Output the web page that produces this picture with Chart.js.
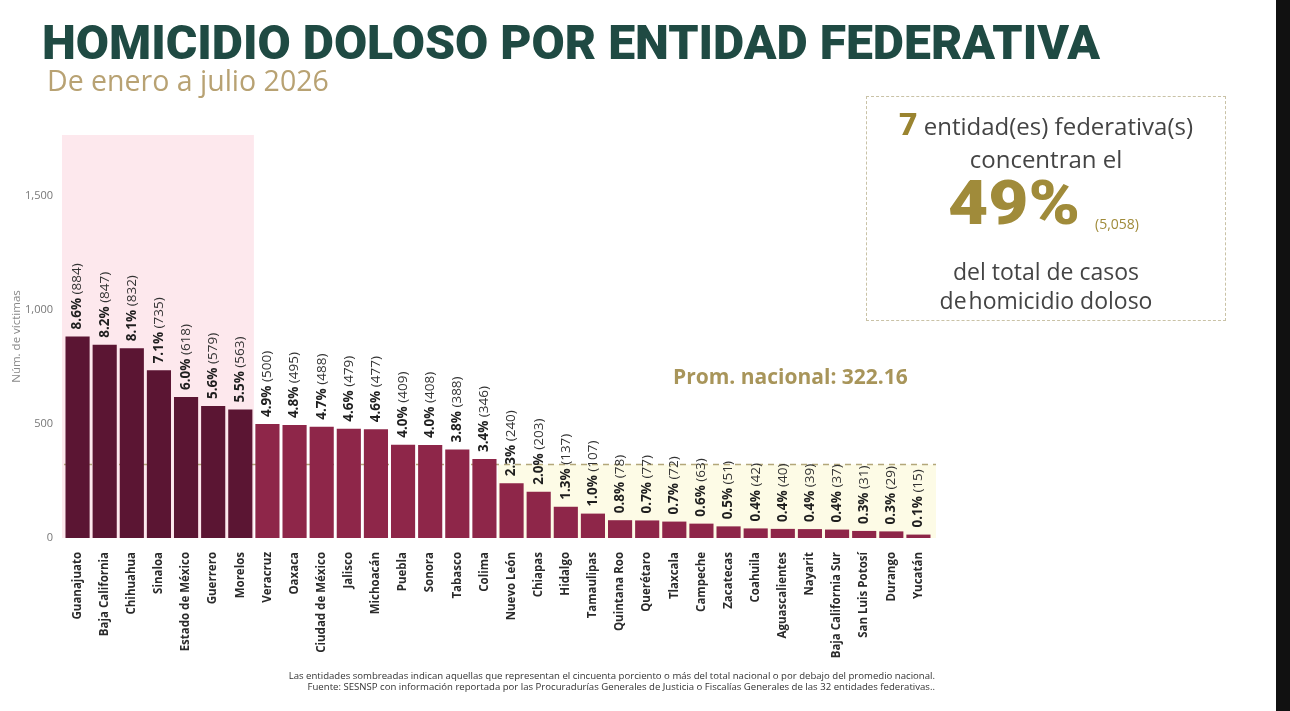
<!DOCTYPE html>
<html lang="es">
<head>
<meta charset="utf-8">
<title>Homicidio doloso por entidad federativa</title>
<script src="https://cdn.jsdelivr.net/npm/chart.js@4.4.0/dist/chart.umd.min.js"></script>
<style>
  html, body { margin: 0; padding: 0; background: #fff; }
  body { width: 1290px; height: 711px; position: relative; overflow: hidden; font-family: "Open Sans", sans-serif; }
  #chart { position: absolute; left: 0; top: 0; }
  #title { position: absolute; left: 42px; top: 14px; margin: 0; font-family: "Roboto", sans-serif; font-weight: 900;
           font-size: 48px; color: #1f4a43; white-space: nowrap; transform-origin: left top; }
  #subtitle { position: absolute; left: 47px; top: 61px; font-size: 28.5px; color: #b8a273; white-space: nowrap; }
  #box { position: absolute; left: 866px; top: 96px; width: 360px; height: 225px; border: 1.5px dashed #c9c2a6;
         box-sizing: border-box; text-align: center; color: #444; }
  #box .l1 { position: absolute; left: 0; right: 0; top: 8px; font-size: 24px; }
  #box .l1 b { color: #9a8430; font-size: 32px; font-family: "Roboto", sans-serif; font-weight: 900; }
  #box .l2 { position: absolute; left: 0; right: 0; top: 45px; font-size: 24px; }
  #box .big { position: absolute; left: 81px; top: 75px; font-family: "Roboto", sans-serif; font-weight: 900; font-size: 62px;
              line-height: 62px; color: #a08b3a; transform-origin: left top; transform: scaleX(1.12); }
  #box .small { position: absolute; left: 228px; top: 117px; font-size: 14px; color: #a08b3a; }
  #box .l3 { position: absolute; left: 0; right: 0; top: 158px; font-size: 23px; }
  #box .l4 { position: absolute; left: 0; right: 0; top: 187px; font-size: 23px; }
  #box .l4 span { margin-right: -4px; }
  #prom { position: absolute; left: 673px; top: 362px; font-size: 21px; font-weight: 700; color: #a8955a; white-space: nowrap; }
  #foot { position: absolute; right: 355px; top: 670px; font-size: 9.6px; color: #333; text-align: right; line-height: 11px; white-space: nowrap; }
  #strip { position: absolute; left: 1276px; top: 0; width: 14px; height: 711px; background: #111; }
</style>
</head>
<body>
<canvas id="chart" width="1290" height="711"></canvas>
<h1 id="title">HOMICIDIO DOLOSO POR ENTIDAD FEDERATIVA</h1>
<div id="subtitle">De enero a julio 2026</div>
<div id="box">
  <div class="l1"><b>7</b> entidad(es) federativa(s)</div>
  <div class="l2">concentran el</div>
  <div class="big">49%</div>
  <div class="small">(5,058)</div>
  <div class="l3">del total de casos</div>
  <div class="l4"><span>de</span> homicidio doloso</div>
</div>
<div id="prom">Prom. nacional: 322.16</div>
<div id="foot">Las entidades sombreadas indican aquellas que representan el cincuenta porciento o más del total nacional o por debajo del promedio nacional.<br>Fuente: SESNSP con información reportada por las Procuradurías Generales de Justicia o Fiscalías Generales de las 32 entidades federativas..</div>
<div id="strip"></div>

<script>
// Data
const estados = ["Guanajuato", "Baja California", "Chihuahua", "Sinaloa", "Estado de México", "Guerrero", "Morelos",
  "Veracruz", "Oaxaca", "Ciudad de México", "Jalisco", "Michoacán", "Puebla", "Sonora", "Tabasco", "Colima",
  "Nuevo León", "Chiapas", "Hidalgo", "Tamaulipas", "Quintana Roo", "Querétaro", "Tlaxcala", "Campeche",
  "Zacatecas", "Coahuila", "Aguascalientes", "Nayarit", "Baja California Sur", "San Luis Potosí", "Durango", "Yucatán"];
const victimas = [884, 847, 832, 735, 618, 579, 563, 500, 495, 488, 479, 477, 409, 408, 388, 346,
  240, 203, 137, 107, 78, 77, 72, 63, 51, 42, 40, 39, 37, 31, 29, 15];
const porcentajes = ["8.6%", "8.2%", "8.1%", "7.1%", "6.0%", "5.6%", "5.5%", "4.9%", "4.8%", "4.7%", "4.6%", "4.6%",
  "4.0%", "4.0%", "3.8%", "3.4%", "2.3%", "2.0%", "1.3%", "1.0%", "0.8%", "0.7%", "0.7%", "0.6%",
  "0.5%", "0.4%", "0.4%", "0.4%", "0.4%", "0.3%", "0.3%", "0.1%"];
const promedio = 322.16;
const topCount = 7;        // entidades que concentran el 49%
const yTicks = [0, 500, 1000, 1500];

// fit title to its width in the reference
const title = document.getElementById("title");
title.style.transform = "scaleX(" + (1058 / title.getBoundingClientRect().width) + ")";

const DARK = "#5b1533";
const LIGHT = "#8e2649";

// shaded areas + dashed average line
const shading = {
  id: "shading",
  beforeDatasetsDraw(chart) {
    const { ctx, chartArea, scales: { x, y } } = chart;
    const step = (chartArea.right - chartArea.left) / estados.length;
    const ctrs = estados.map((_, i) => x.getPixelForValue(i));
    const yAvg = y.getPixelForValue(promedio);
    ctx.save();
    // pink block over the top entities
    ctx.fillStyle = "#fde8ed";
    ctx.fillRect(chartArea.left - 2, chartArea.top, ctrs[topCount - 1] + step / 2 - chartArea.left + 2, chartArea.bottom - chartArea.top);
    // yellow block under the average
    const firstBelow = victimas.findIndex(v => v < promedio);
    const xs = ctrs[firstBelow] - step / 2;
    ctx.fillStyle = "#fdfbe6";
    ctx.fillRect(xs, yAvg, chartArea.right + 4 - xs, chartArea.bottom - yAvg);
    // average line
    ctx.strokeStyle = "#b3a77a";
    ctx.lineWidth = 1.5;
    ctx.setLineDash([6, 5]);
    ctx.beginPath();
    ctx.moveTo(chartArea.left, yAvg);
    ctx.lineTo(chartArea.right + 4, yAvg);
    ctx.stroke();
    ctx.restore();
  }
};

// rotated "pct (value)" labels above each bar
const barLabels = {
  id: "barLabels",
  afterDatasetsDraw(chart) {
    const { ctx } = chart;
    const bars = chart.getDatasetMeta(0).data;
    ctx.save();
    bars.forEach((bar, i) => {
      ctx.save();
      ctx.translate(bar.x, bar.y - 7);
      ctx.rotate(-Math.PI / 2);
      ctx.textAlign = "left";
      ctx.textBaseline = "middle";
      ctx.font = "bold 13.5px 'Open Sans'";
      ctx.fillStyle = "#1e1e1e";
      ctx.fillText(porcentajes[i], 0, 0);
      const w = ctx.measureText(porcentajes[i] + " ").width;
      ctx.font = "13.5px 'Open Sans'";
      ctx.fillStyle = "#333";
      ctx.fillText("(" + victimas[i] + ")", w, 0);
      ctx.restore();
    });
    ctx.restore();
  }
};

const ctx = document.getElementById("chart").getContext("2d");
new Chart(ctx, {
  type: "bar",
  data: {
    labels: estados,
    datasets: [{
      data: victimas,
      backgroundColor: victimas.map((_, i) => i < topCount ? DARK : LIGHT),
      barPercentage: 0.89,
      categoryPercentage: 1.0
    }]
  },
  options: {
    responsive: false,
    animation: false,
    layout: { padding: { top: 135, left: 0, right: 358, bottom: 0 } },
    plugins: { legend: { display: false }, tooltip: { enabled: false } },
    scales: {
      x: {
        grid: { display: false },
        border: { display: false },
        ticks: {
          autoSkip: false, minRotation: 90, maxRotation: 90, padding: 6,
          color: "#2a2a2a", font: { family: "Open Sans", weight: "bold", size: 11.5 }
        },
        afterFit(scale) { scale.height = 173; }
      },
      y: {
        min: 0, max: 1767,
        grid: { display: false },
        border: { display: false },
        ticks: {
          padding: 3, color: "#777", font: { family: "Open Sans", size: 11 },
          callback: v => v.toLocaleString("en-US")
        },
        afterBuildTicks(scale) { scale.ticks = yTicks.map(v => ({ value: v })); },
        title: { display: true, text: "Núm. de víctimas", color: "#888", font: { family: "Open Sans", size: 11.5 }, padding: { top: 10, bottom: 0 } },
        afterFit(scale) { scale.width = 64; }
      }
    }
  },
  plugins: [shading, barLabels]
});
</script>
</body>
</html>
